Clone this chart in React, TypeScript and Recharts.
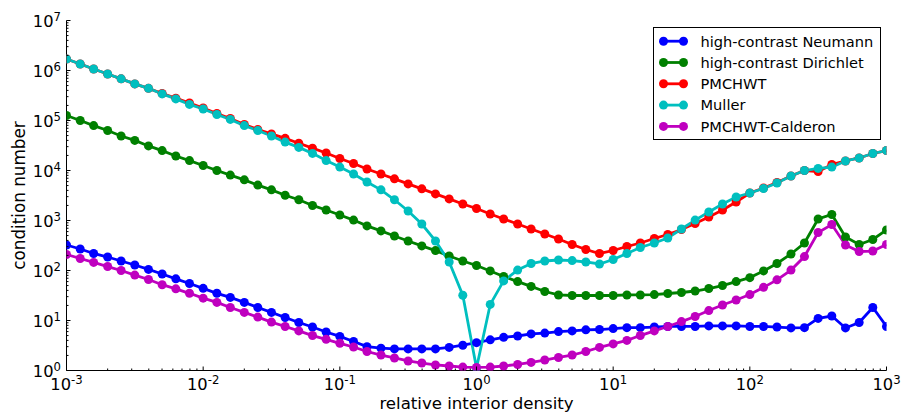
import React from 'react';
import { LineChart, Line, XAxis, YAxis, Legend } from 'recharts';

// relative interior density (x), 10 samples per decade
const densities = [
  0.001, 0.00126, 0.00158, 0.002, 0.00251, 0.00316, 0.00398, 0.00501, 0.00631, 0.00794,
  0.01, 0.0126, 0.0158, 0.02, 0.0251, 0.0316, 0.0398, 0.0501, 0.0631, 0.0794,
  0.1, 0.126, 0.158, 0.2, 0.251, 0.316, 0.398, 0.501, 0.631, 0.794,
  1, 1.26, 1.58, 2, 2.51, 3.16, 3.98, 5.01, 6.31, 7.94,
  10, 12.6, 15.8, 20, 25.1, 31.6, 39.8, 50.1, 63.1, 79.4,
  100, 126, 158, 200, 251, 316, 398, 501, 631, 794, 1000,
];

const neumann = [
  324, 269, 219, 186, 155, 129, 105, 85, 68, 55,
  44, 35, 29, 23, 18.2, 14.5, 11.5, 9.1, 7.4, 5.9,
  4.8, 3.8, 3.0, 2.8, 2.7, 2.7, 2.7, 2.7, 2.9, 3.2,
  3.6, 4.1, 4.6, 4.9, 5.4, 5.6, 6.0, 6.2, 6.5, 6.6,
  6.9, 7.2, 7.2, 7.4, 7.6, 7.6, 7.6, 7.8, 7.8, 7.8,
  7.6, 7.6, 7.4, 7.1, 7.2, 11, 12.3, 7.1, 9.1, 18.2, 7.6,
];

const dirichlet = [
  126000, 100000, 79000, 63000, 49000, 40000, 31000, 25000, 19500, 15800,
  12600, 10000, 8100, 6500, 5100, 4100, 3200, 2600, 2000, 1620,
  1290, 1020, 780, 620, 490, 390, 310, 250, 195, 155,
  126, 98, 76, 60, 48, 38, 32.4, 31.6, 31.6, 31.6,
  31.6, 32.4, 32.4, 33, 34.7, 36.3, 38.9, 43.6, 50, 60,
  72, 98, 138, 214, 355, 1070, 1320, 468, 331, 417, 646,
];

const pmchwt = [
  1700000, 1350000, 1070000, 850000, 680000, 540000, 440000, 347000, 280000, 224000,
  178000, 138000, 110000, 83000, 66000, 54000, 44000, 35000, 28000, 22400,
  17400, 13800, 10700, 8500, 6800, 5400, 4300, 3400, 2700, 2140,
  1740, 1350, 1070, 850, 676, 537, 427, 331, 263, 219,
  251, 302, 355, 437, 525, 661, 871, 1175, 1620, 2340,
  3550, 4470, 5750, 7760, 10000, 9550, 13200, 15500, 17800, 21900, 25100,
];

const muller = [
  1700000, 1350000, 1070000, 850000, 680000, 540000, 440000, 340000, 270000, 210000,
  170000, 132000, 105000, 79000, 63000, 49000, 37000, 29000, 22000, 15800,
  11700, 8500, 5900, 4100, 2600, 1550, 850, 390, 148, 32,
  1.12, 21, 62, 102, 138, 155, 162, 158, 148, 135,
  166, 219, 288, 355, 447, 676, 1020, 1480, 2140, 2950,
  3550, 4370, 5620, 7760, 10000, 11000, 11700, 15500, 17800, 21900, 25100,
];

const calderon = [
  209, 174, 145, 120, 100, 81, 66, 52, 43, 35,
  28, 23, 18.2, 14.5, 11.7, 9.3, 7.6, 6.2, 5.0, 4.2,
  3.5, 2.95, 2.4, 2.04, 1.78, 1.55, 1.41, 1.29, 1.23, 1.17,
  1.15, 1.17, 1.23, 1.32, 1.45, 1.62, 1.82, 2.04, 2.4, 2.9,
  3.4, 4.0, 5.0, 6.2, 7.6, 9.5, 12, 15.8, 20.4, 25.7,
  33, 46, 65, 102, 190, 575, 830, 324, 240, 245, 331,
];

const seriesKeys = ['neumann', 'dirichlet', 'pmchwt', 'muller', 'calderon'];
const seriesNames = [
  'high-contrast Neumann',
  'high-contrast Dirichlet',
  'PMCHWT',
  'Muller',
  'PMCHWT-Calderon',
];
const seriesColors = ['#0000ff', '#008000', '#ff0000', '#00bfbf', '#bf00bf'];
const seriesValues = [neumann, dirichlet, pmchwt, muller, calderon];

const xMajorTicks = [0.001, 0.01, 0.1, 1, 10, 100, 1000];
const yMajorTicks = [1, 10, 100, 1000, 10000, 100000, 1000000, 10000000];
const minorMultipliers = [2, 3, 4, 5, 6, 7, 8, 9];

const xAxisTitle = 'relative interior density';
const yAxisTitle = 'condition number';

const FONT = '"DejaVu Sans", sans-serif';

function withMinor(majors: number[]): number[] {
  const out: number[] = [];
  majors.forEach((m, i) => {
    out.push(m);
    if (i < majors.length - 1) minorMultipliers.forEach((k) => out.push(m * k));
  });
  return out;
}

const xTicks = withMinor(xMajorTicks);
const yTicks = withMinor(yMajorTicks);
const xMajorSet = new Set(xMajorTicks);
const yMajorSet = new Set(yMajorTicks);

const data = densities.map((d, i) => {
  const row: any = { d };
  seriesKeys.forEach((k, s) => {
    row[k] = seriesValues[s][i];
  });
  return row;
});

const MAJOR = 4;
const MINOR = 2;

function PowerLabel({ x, y, exp, anchor }: any) {
  return (
    <text x={x} y={y} textAnchor={anchor} fontFamily={FONT} fontSize={16.3} fill="#000">
      10
      <tspan dy={-6} fontSize={11.7}>
        {exp}
      </tspan>
    </text>
  );
}

const expOf = (v: number) => String(Math.round(Math.log10(v)));

function BottomTick(props: any) {
  const { x, y, payload } = props;
  const v = payload.value;
  const major = xMajorSet.has(v);
  return (
    <g>
      <line x1={x} x2={x} y1={y} y2={y - (major ? MAJOR : MINOR)} stroke="#000" strokeWidth={1} />
      {major && <PowerLabel x={x} y={y + 19} exp={expOf(v)} anchor="middle" />}
    </g>
  );
}

function TopTick(props: any) {
  const { x, y, payload } = props;
  const major = xMajorSet.has(payload.value);
  return <line x1={x} x2={x} y1={y} y2={y + (major ? MAJOR : MINOR)} stroke="#000" strokeWidth={1} />;
}

function LeftTick(props: any) {
  const { x, y, payload } = props;
  const v = payload.value;
  const major = yMajorSet.has(v);
  return (
    <g>
      <line x1={x} x2={x + (major ? MAJOR : MINOR)} y1={y} y2={y} stroke="#000" strokeWidth={1} />
      {major && <PowerLabel x={x - 5.5} y={y + 6} exp={expOf(v)} anchor="end" />}
    </g>
  );
}

function RightTick(props: any) {
  const { x, y, payload } = props;
  const major = yMajorSet.has(payload.value);
  return <line x1={x} x2={x - (major ? MAJOR : MINOR)} y1={y} y2={y} stroke="#000" strokeWidth={1} />;
}

function XTitle(props: any) {
  const vb = props.viewBox || {};
  return (
    <text x={vb.x + vb.width / 2} y={vb.y + 38.5} textAnchor="middle" fontFamily={FONT} fontSize={16.6} fill="#000">
      {xAxisTitle}
    </text>
  );
}

function YTitle(props: any) {
  const vb = props.viewBox || {};
  const cx = vb.x + 25;
  const cy = vb.y + vb.height / 2;
  return (
    <text
      x={cx}
      y={cy}
      transform={`rotate(-90 ${cx} ${cy})`}
      textAnchor="middle"
      fontFamily={FONT}
      fontSize={16.8}
      fill="#000"
    >
      {yAxisTitle}
    </text>
  );
}

function LegendBox(props: any) {
  const payload = [...(props.payload || [])].sort(
    (a: any, b: any) => seriesNames.indexOf(a.value) - seriesNames.indexOf(b.value)
  );
  return (
    <svg width={229} height={113} style={{ display: 'block' }}>
      <rect x={0.5} y={0.5} width={227} height={112} fill="#fff" stroke="#000" strokeWidth={1} />
      {payload.map((e: any, i: number) => {
        const cy = 14.2 + i * 21.3;
        return (
          <g key={e.value}>
            <line x1={10.5} x2={30.5} y1={cy} y2={cy} stroke={e.color} strokeWidth={2.8} />
            <circle cx={10.5} cy={cy} r={4.5} fill={e.color} />
            <circle cx={30.5} cy={cy} r={4.5} fill={e.color} />
            <text x={47.5} y={cy + 5.3} fontFamily={FONT} fontSize={14.6} fill="#000">
              {e.value}
            </text>
          </g>
        );
      })}
    </svg>
  );
}

export default function App() {
  return (
    <div style={{ position: 'absolute', left: 0, top: 0, width: 901, height: 415, background: '#fff' }}>
      <LineChart
        width={901}
        height={415}
        data={data}
        margin={{ top: 20.5, right: 14.5, bottom: 0, left: 0 }}
      >
        <XAxis
          xAxisId="bottom"
          dataKey="d"
          type="number"
          scale="log"
          domain={[0.001, 1000]}
          allowDataOverflow
          ticks={xTicks}
          interval={0}
          tickSize={0}
          tickMargin={0}
          tickLine={false}
          tick={<BottomTick />}
          height={44.5}
          axisLine={{ stroke: '#000', strokeWidth: 1 }}
          label={<XTitle />}
        />
        <XAxis
          xAxisId="top"
          orientation="top"
          dataKey="d"
          type="number"
          scale="log"
          domain={[0.001, 1000]}
          allowDataOverflow
          ticks={xTicks}
          interval={0}
          tickSize={0}
          tickMargin={0}
          tickLine={false}
          tick={<TopTick />}
          height={0}
          axisLine={{ stroke: '#000', strokeWidth: 1 }}
        />
        <YAxis
          yAxisId="left"
          type="number"
          scale="log"
          domain={[1, 10000000]}
          allowDataOverflow
          ticks={yTicks}
          interval={0}
          tickSize={0}
          tickMargin={0}
          tickLine={false}
          tick={<LeftTick />}
          width={66.5}
          axisLine={{ stroke: '#000', strokeWidth: 1 }}
          label={<YTitle />}
        />
        <YAxis
          yAxisId="right"
          orientation="right"
          type="number"
          scale="log"
          domain={[1, 10000000]}
          allowDataOverflow
          ticks={yTicks}
          interval={0}
          tickSize={0}
          tickMargin={0}
          tickLine={false}
          tick={<RightTick />}
          width={0}
          axisLine={{ stroke: '#000', strokeWidth: 1 }}
        />
        {seriesKeys.map((k, s) => (
          <Line
            key={k}
            xAxisId="bottom"
            yAxisId="left"
            dataKey={k}
            name={seriesNames[s]}
            stroke={seriesColors[s]}
            strokeWidth={2.8}
            dot={{ r: 4.5, fill: seriesColors[s], stroke: seriesColors[s], strokeWidth: 0 }}
            activeDot={false}
            isAnimationActive={false}
          />
        ))}
        <Legend
          layout="vertical"
          align="center"
          verticalAlign="middle"
          content={<LegendBox />}
          wrapperStyle={{ position: 'absolute', left: 652.5, top: 26.5, width: 229, height: 113 }}
        />
      </LineChart>
    </div>
  );
}
